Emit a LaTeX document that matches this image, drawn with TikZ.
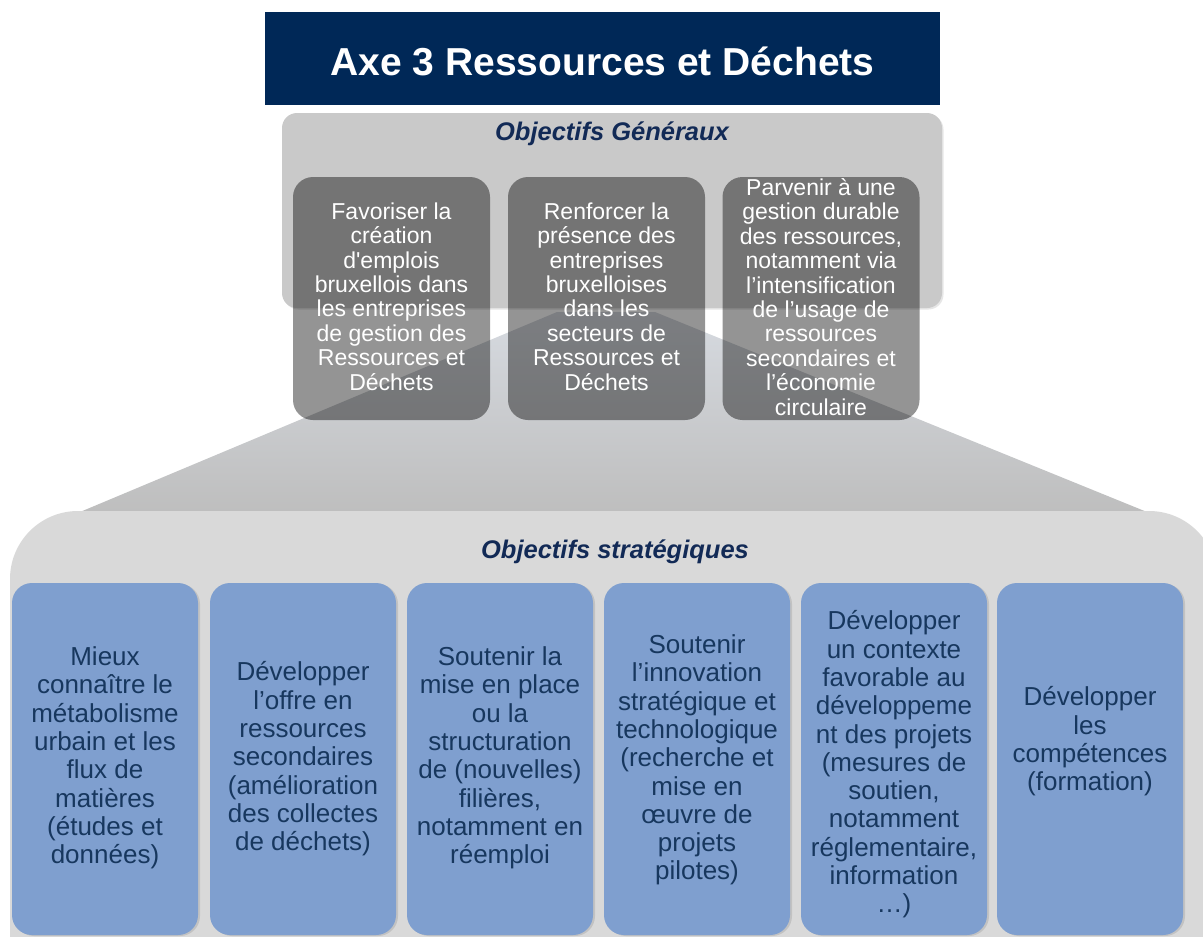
\documentclass[tikz,border=0pt]{standalone}
\usepackage{fontspec}
\setmainfont{Liberation Sans}
\usetikzlibrary{shadows}
\definecolor{navy}{RGB}{0,40,87}
\definecolor{headc}{RGB}{18,42,86}
\definecolor{genpanelc}{RGB}{201,201,201}
\definecolor{strpanelc}{RGB}{217,217,217}
\definecolor{boxblue}{RGB}{127,159,207}
\definecolor{boxtext}{RGB}{23,55,94}
\definecolor{traptop}{RGB}{214,218,224}
\definecolor{trapbot}{RGB}{190,190,190}
\begin{document}
\begin{tikzpicture}[x=1pt,y=-1pt,
  genbox/.style={rectangle, rounded corners=20pt, fill=black, fill opacity=0.42, minimum width=197pt, minimum height=243pt, inner sep=0pt},
  gentext/.style={text=white, align=center, font=\fontsize{23}{24.4}\selectfont, inner sep=0pt},
  bluebox/.style={rectangle, rounded corners=20pt, fill=boxblue, minimum width=186pt, minimum height=352pt, inner sep=0pt, drop shadow={opacity=0.25, shadow xshift=2pt, shadow yshift=-1pt}},
  bluetext/.style={text=boxtext, align=center, font=\fontsize{26}{28.3}\selectfont, inner sep=0pt},
  heading/.style={text=headc, font=\fontsize{25.5}{30}\selectfont\bfseries\itshape, inner sep=0pt}
]
\useasboundingbox (0,0) rectangle (1203,937);
\clip (0,0) rectangle (1203,937);

% title
\node[rectangle, fill=navy, minimum width=675pt, minimum height=93pt, inner sep=0pt] (title) at (602.5,58.5) {};
\node[text=white, font=\fontsize{39}{44}\selectfont\bfseries, inner sep=0pt] (titletext) at (602.5,61.5) {Axe 3 Ressources et Déchets};

% general objectives panel
\node[rectangle, rounded corners=15pt, fill=genpanelc, minimum width=660pt, minimum height=195pt, inner sep=0pt,
      drop shadow={opacity=0.2, shadow xshift=1.5pt, shadow yshift=-1.5pt}] (genpanel) at (612,210.5) {};
\node[heading] (genhead) at (612,133.5) {Objectifs Généraux};

% trapezoid
\shade[top color=traptop, bottom color=trapbot] (557,312) -- (655,312) -- (1147,512) -- (80,512) -- cycle;

% strategic objectives panel
\fill[strpanelc, rounded corners=68pt] (10,511) rectangle (1217,1010);
\node[heading] (strhead) at (615,551.5) {Objectifs stratégiques};

% dark boxes
\node[genbox] (g1) at (391.5,298.5) {};
\node[genbox] (g2) at (606.5,298.5) {};
\node[genbox] (g3) at (821,298.5) {};
\node[gentext] (gt1) at (391.5,296.5) {Favoriser la\\création\\d\textquotesingle emplois\\bruxellois dans\\les entreprises\\de gestion des\\Ressources et\\Déchets};
\node[gentext] (gt2) at (606.5,296.5) {Renforcer la\\présence des\\entreprises\\bruxelloises\\dans les\\secteurs de\\Ressources et\\Déchets};
\node[gentext] (gt3) at (821,297) {Parvenir à une\\gestion durable\\des ressources,\\notamment via\\l’intensification\\de l’usage de\\ressources\\secondaires  et\\l’économie\\circulaire};

% blue boxes
\node[bluebox] (s1) at (105,759) {};
\node[bluebox] (s2) at (303,759) {};
\node[bluebox] (s3) at (500,759) {};
\node[bluebox] (s4) at (697,759) {};
\node[bluebox] (s5) at (894,759) {};
\node[bluebox] (s6) at (1090,759) {};
\node[bluetext] (st1) at (105,758) {Mieux\\connaître le\\métabolisme\\urbain et les\\flux de\\matières\\(études et\\données)};
\node[bluetext] (st2) at (303,759) {Développer\\l’offre en\\ressources\\secondaires\\(amélioration\\des collectes\\de déchets)};
\node[bluetext] (st3) at (500,758) {Soutenir la\\mise en place\\ou la\\structuration\\de (nouvelles)\\filières,\\notamment en\\réemploi};
\node[bluetext] (st4) at (697,760) {Soutenir\\l’innovation\\stratégique et\\technologique\\(recherche et\\mise en\\œuvre de\\projets\\pilotes)};
\node[bluetext] (st5) at (894,764.5) {Développer\\un contexte\\favorable au\\développeme\\nt des projets\\(mesures de\\soutien,\\notamment\\réglementaire,\\information\\…)};
\node[bluetext] (st6) at (1090,741.5) {Développer\\les\\compétences\\(formation)};
\end{tikzpicture}
\end{document}
